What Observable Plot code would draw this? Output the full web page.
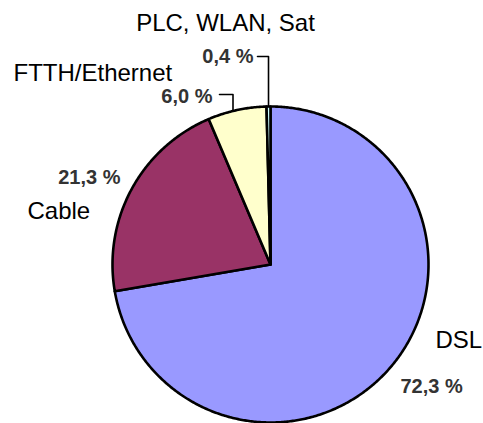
<!DOCTYPE html>
<html>
<head>
<meta charset="utf-8">
<script src="https://cdn.jsdelivr.net/npm/d3@7"></script>
<script src="https://cdn.jsdelivr.net/npm/@observablehq/plot@0.6"></script>
<style>
  html, body { margin: 0; padding: 0; background: #fff; }
  #chart svg { display: block; background: #fff; }
</style>
</head>
<body>
<div id="chart"></div>
<script>
// ---- data ----
const categories = ["DSL", "Cable", "FTTH/Ethernet", "PLC, WLAN, Sat"];
const shares = [72.3, 21.3, 6.0, 0.4];
const valueLabels = ["72,3 %", "21,3 %", "6,0 %", "0,4 %"];
const colors = ["#9999ff", "#993366", "#ffffcc", "#ccffff"];

// ---- layout (pixels) ----
const W = 483, H = 423;
const CX = 270, CY = 264, R = 158;
// name label anchors: [x, baseline y, textAnchor]
const nameLayout = [[435, 347, "start"], [27, 218, "start"], [13, 80, "start"], [225, 30, "middle"]];
const valueLayout = [[400, 392, "start"], [120, 183, "end"], [212, 102, "end"], [253, 62, "end"]];
const leaderFor = [null, null, { x0: 219, y: 94, dx: -4 }, { x0: 257, y: 56, dx: 0 }];

const ux = px => (px - CX) / R;
const uy = py => (CY - py) / R;

// slices from shares
const total = d3.sum(shares);
let acc = 0;
const slices = categories.map((c, i) => {
  const a0 = acc / total * 2 * Math.PI;
  acc += shares[i];
  const a1 = acc / total * 2 * Math.PI;
  return { cat: c, a0, a1, mid: (a0 + a1) / 2 };
});
const pts = [];
slices.forEach(s => {
  pts.push({ cat: s.cat, x: 0, y: 0 });
  const n = Math.max(2, Math.ceil((s.a1 - s.a0) / (Math.PI / 360)));
  for (let k = 0; k <= n; k++) {
    const a = s.a0 + (s.a1 - s.a0) * k / n;
    pts.push({ cat: s.cat, x: Math.sin(a), y: Math.cos(a) });
  }
  pts.push({ cat: s.cat, x: 0, y: 0 });
});

const nameRows = categories.map((c, i) => ({
  text: c, x: ux(nameLayout[i][0]), y: uy(nameLayout[i][1] - 24 * 0.32), anchor: nameLayout[i][2]
}));
const valueRows = valueLabels.map((t, i) => ({
  text: t, x: ux(valueLayout[i][0]), y: uy(valueLayout[i][1] - 20 * 0.32), anchor: valueLayout[i][2]
}));
const leaders = [];
slices.forEach((s, i) => {
  const L = leaderFor[i];
  if (!L) return;
  const a = s.mid;
  const ex = Math.sin(a), ey = Math.cos(a);
  const exPx = CX + R * ex + L.dx;
  leaders.push({ id: s.cat, x: ux(L.x0), y: uy(L.y) });
  leaders.push({ id: s.cat, x: ux(exPx), y: uy(L.y) });
  leaders.push({ id: s.cat, x: ux(exPx), y: uy(CY - R * Math.sqrt(1 - ((exPx - CX) / R) ** 2)) });
});

const font = "Liberation Sans, Arial, Helvetica, sans-serif";
const textMark = (rows, anchor, opts) =>
  Plot.text(rows.filter(d => d.anchor === anchor), { x: "x", y: "y", text: "text", textAnchor: anchor, fontFamily: font, ...opts });

const chart = Plot.plot({
  width: W, height: H,
  margin: 0,
  style: { background: "#fff", fontFamily: font },
  x: { domain: [ux(0), ux(W)], axis: null },
  y: { domain: [uy(H), uy(0)], axis: null },
  color: { domain: categories, range: colors },
  marks: [
    Plot.line(pts, { x: "x", y: "y", z: "cat", fill: "cat", stroke: "#000", strokeWidth: 2.6, strokeLinejoin: "round", curve: "linear" }),
    Plot.line(leaders, { x: "x", y: "y", z: "id", stroke: "#000", strokeWidth: 1.6 }),
    textMark(nameRows, "start", { fontSize: 24, fill: "#000" }),
    textMark(nameRows, "middle", { fontSize: 24, fill: "#000" }),
    textMark(valueRows, "start", { fontSize: 20, fill: "#333", fontWeight: "bold" }),
    textMark(valueRows, "end", { fontSize: 20, fill: "#333", fontWeight: "bold" })
  ]
});
document.getElementById("chart").appendChild(chart);
</script>
</body>
</html>
